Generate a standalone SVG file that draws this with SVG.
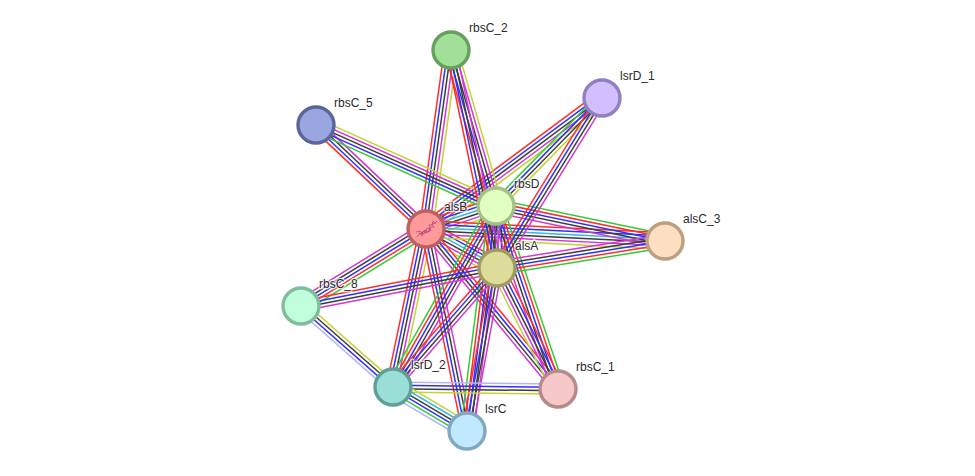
<svg xmlns="http://www.w3.org/2000/svg" width="975" height="476" viewBox="0 0 975 476">
<style>
text{font-family:"Liberation Sans",Arial,sans-serif;font-size:12px;fill:#2a2a2a;stroke:#fff;stroke-opacity:.7;stroke-width:2.5px;paint-order:stroke}
.n{stroke-width:3.4}
line{stroke-width:1.5;fill:none}
.r{stroke:#ff2d2d}.b{stroke:#2e2eff}.k{stroke:#3c3c3c}.m{stroke:#d535d5}.y{stroke:#c2d432}.g{stroke:#35c935}.c{stroke:#35b8dc}.l{stroke:#b4b4ff}
</style>
<defs>
<!-- evidence bundles drawn along a unit x axis, scaled to each edge length -->
<g id="b4"><line class="r" x2="1" y1="-5" y2="-5"/><line class="b" x2="1" y1="-1.7" y2="-1.7"/><line class="k" x2="1" y1="1.7" y2="1.7"/><line class="m" x2="1" y1="5" y2="5"/></g>
<g id="g4"><line class="g" x2="1" y1="-5" y2="-5"/><line class="b" x2="1" y1="-1.7" y2="-1.7"/><line class="k" x2="1" y1="1.7" y2="1.7"/><line class="y" x2="1" y1="5" y2="5"/></g>
<g id="b5"><line class="r" x2="1" y1="-6.6" y2="-6.6"/><line class="b" x2="1" y1="-3.3" y2="-3.3"/><line class="k" x2="1"/><line class="m" x2="1" y1="3.3" y2="3.3"/><line class="y" x2="1" y1="6.6" y2="6.6"/></g>
<g id="b5g"><line class="g" x2="1" y1="-6.6" y2="-6.6"/><line class="b" x2="1" y1="-3.3" y2="-3.3"/><line class="k" x2="1"/><line class="m" x2="1" y1="3.3" y2="3.3"/><line class="y" x2="1" y1="6.6" y2="6.6"/></g>
<g id="b5n"><line class="g" x2="1" y1="-6.6" y2="-6.6"/><line class="r" x2="1" y1="-3.3" y2="-3.3"/><line class="b" x2="1"/><line class="k" x2="1" y1="3.3" y2="3.3"/><line class="m" x2="1" y1="6.6" y2="6.6"/></g>
<g id="b6c"><line class="r" x2="1" y1="-8.2" y2="-8.2"/><line class="b" x2="1" y1="-4.9" y2="-4.9"/><line class="c" x2="1" y1="-1.6" y2="-1.6"/><line class="k" x2="1" y1="1.6" y2="1.6"/><line class="m" x2="1" y1="4.9" y2="4.9"/><line class="y" x2="1" y1="8.2" y2="8.2"/></g>
<g id="h4"><line class="y" x2="1" y1="-5" y2="-5"/><line class="k" x2="1" y1="-1.7" y2="-1.7"/><line class="b" x2="1" y1="1.7" y2="1.7"/><line class="l" x2="1" y1="5" y2="5"/></g>
<g id="h6"><line class="y" x2="1" y1="-8.2" y2="-8.2"/><line class="c" x2="1" y1="-4.9" y2="-4.9"/><line class="k" x2="1" y1="-1.6" y2="-1.6"/><line class="b" x2="1" y1="1.6" y2="1.6"/><line class="g" x2="1" y1="4.9" y2="4.9"/><line class="l" x2="1" y1="8.2" y2="8.2"/></g>
<g id="h4b"><line class="l" x2="1" y1="-5" y2="-5"/><line class="b" x2="1" y1="-1.7" y2="-1.7"/><line class="k" x2="1" y1="1.7" y2="1.7"/><line class="y" x2="1" y1="5" y2="5"/></g>
</defs>
<g id="connectors">
<!-- from alsB -->
<use href="#b5" transform="translate(426 229) rotate(-82.05) scale(180.7 1)"/>
<use href="#b5" transform="translate(426 229) rotate(-36.66) scale(219.4 1)"/>
<use href="#b4" transform="translate(426 229) rotate(-136.6) scale(151.4 1)"/>
<use href="#b6c" transform="translate(426 229) rotate(-18.2) scale(73.7 1)"/>
<use href="#b6c" transform="translate(426 229) rotate(28.8) scale(81 1)"/>
<use href="#b6c" transform="translate(426 229) rotate(2.87) scale(239.3 1)"/>
<use href="#b5n" transform="translate(426 229) rotate(148.4) scale(146.8 1)"/>
<use href="#b5" transform="translate(426 229) rotate(101.8) scale(161.4 -1)"/>
<use href="#b4" transform="translate(426 229) rotate(50.5) scale(207.4 1)"/>
<use href="#b4" transform="translate(426 229) rotate(78.5) scale(206.1 -1)"/>
<!-- from rbsD -->
<use href="#b5" transform="translate(496 206) rotate(-106.1) scale(162.4 1)"/>
<use href="#g4" transform="translate(496 206) rotate(-45.5) scale(151.3 1)"/>
<use href="#b5g" transform="translate(496 206) rotate(-155.8) scale(197.4 1)"/>
<use href="#b6c" transform="translate(496 206) rotate(89.1) scale(62 1)"/>
<use href="#b5n" transform="translate(496 206) rotate(11.7) scale(172.6 1)"/>
<use href="#b5n" transform="translate(496 206) rotate(119.6) scale(208.3 -1)"/>
<use href="#b5n" transform="translate(496 206) rotate(71.3) scale(193.2 1)"/>
<use href="#b5n" transform="translate(496 206) rotate(97.3) scale(226.9 -1)"/>
<!-- from alsA -->
<use href="#b4" transform="translate(497 268) rotate(-101.9) scale(222.8 1)"/>
<use href="#b4" transform="translate(497 268) rotate(-58.3) scale(199.8 1)"/>
<use href="#b5n" transform="translate(497 268) rotate(-9.1) scale(170.2 -1)"/>
<use href="#b4" transform="translate(497 268) rotate(169) scale(199.6 -1)"/>
<use href="#b4" transform="translate(497 268) rotate(131.2) scale(158 -1)"/>
<use href="#b5" transform="translate(497 268) rotate(63.2) scale(135.5 1)"/>
<use href="#b4" transform="translate(497 268) rotate(100.4) scale(165.7 -1)"/>
<!-- outer edges -->
<use href="#h4" transform="translate(301 306) rotate(41.4) scale(122.6 1)"/>
<use href="#h4b" transform="translate(393 387) rotate(0.7) scale(165 1)"/>
<use href="#h6" transform="translate(393 387) rotate(30.7) scale(86.1 1)"/>
</g>
<g id="rbsC_2"><circle class="n" cx="451" cy="50" r="18" fill="#a2e09a" stroke="#64a25c"/><text x="469" y="32">rbsC_2</text></g>
<g id="lsrD_1"><circle class="n" cx="602" cy="98" r="18" fill="#d2bfff" stroke="#9080c0"/><text x="620" y="80">lsrD_1</text></g>
<g id="rbsC_5"><circle class="n" cx="316" cy="125" r="18" fill="#9aa6e0" stroke="#5a659a"/><text x="334" y="107">rbsC_5</text></g>
<g id="rbsD"><circle class="n" cx="496" cy="206" r="18" fill="#e2ffc2" stroke="#a5bf85"/><text x="514" y="188">rbsD</text></g>
<g id="alsB"><circle class="n" cx="426" cy="229" r="18" fill="#ff9a9a" stroke="#bf6060"/>
<path d="M417 237l3-4 2 3 1-5 3 2 1-5 3 1-1-4 3 0 1-4 2 2 2-2M419 233l5 1 1-4 4 2 2-5 3 0-2-3 4-1M416 232l4-1 2 2 3-3 2 3 3-4 1 2" fill="none" stroke="#b8407a" stroke-width=".9" stroke-opacity=".85"/>
<text x="444" y="211">alsB</text></g>
<g id="alsA"><circle class="n" cx="497" cy="268" r="18" fill="#dedc9a" stroke="#9e9c60"/><text x="515" y="250">alsA</text></g>
<g id="alsC_3"><circle class="n" cx="665" cy="241" r="18" fill="#ffdfc2" stroke="#bd9f82"/><text x="683" y="223">alsC_3</text></g>
<g id="rbsC_8"><circle class="n" cx="301" cy="306" r="18" fill="#bfffdb" stroke="#80bd9d"/><text x="319" y="288">rbsC_8</text></g>
<g id="lsrD_2"><circle class="n" cx="393" cy="387" r="18" fill="#9adfd7" stroke="#5f9f98"/><text x="411" y="369">lsrD_2</text></g>
<g id="rbsC_1"><circle class="n" cx="558" cy="389" r="18" fill="#f7c8c8" stroke="#b58a8a"/><text x="576" y="371">rbsC_1</text></g>
<g id="lsrC"><circle class="n" cx="467" cy="431" r="18" fill="#c0e8ff" stroke="#82a8c0"/><text x="485" y="413">lsrC</text></g>
</svg>
